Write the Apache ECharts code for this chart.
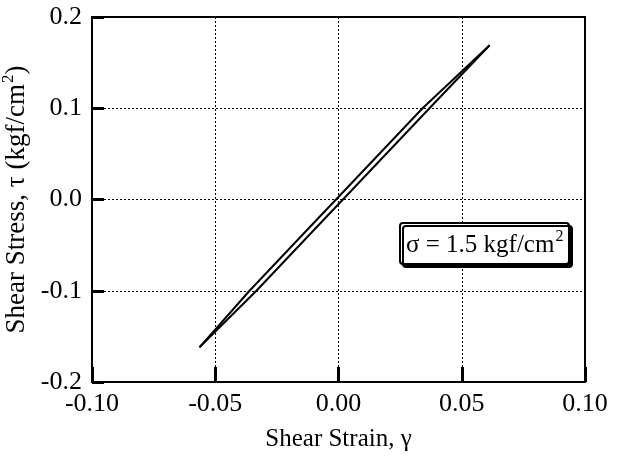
<!DOCTYPE html>
<html>
<head>
<meta charset="utf-8">
<script src="https://cdn.jsdelivr.net/npm/echarts@6/dist/echarts.min.js"></script>
<style>
    html, body { margin: 0; padding: 0; background: #fff; }
    #main { width: 626px; height: 461px; }
</style>
</head>
<body>
<div id="main"></div>
<script>
// ticks
var xTicks = [-0.10, -0.05, 0.00, 0.05, 0.10];
var yTicks = [-0.2, -0.1, 0.0, 0.1, 0.2];

// hysteresis loop
// upper / left branch (unloading)
var upperX = [0.0613, 0.0341, 0.0090, -0.0010, -0.0119, -0.0361, -0.0564];
var upperY = [0.169, 0.100, 0.0285, 0.000, -0.031, -0.100, -0.162];
// lower / right branch (loading)
var lowerX = [-0.0564, -0.0333, -0.0091, 0.0018, 0.0118, 0.0369, 0.0613];
var lowerY = [-0.162, -0.100, -0.031, 0.000, 0.0285, 0.100, 0.169];

function pairs(xs, ys) {
    var out = [];
    for (var i = 0; i < xs.length; i++) out.push([xs[i], ys[i]]);
    return out;
}

var font = 'Liberation Serif';
var dom = document.getElementById('main');
var myChart = echarts.init(dom, null, {renderer: 'canvas'});

var option = {
    animation: false,
    backgroundColor: '#fff',
    textStyle: {fontFamily: font, color: '#000'},
    title: {
        text: '{n|σ = 1.5 kgf/cm}{sup|2}',
        left: 400,
        top: 223,
        padding: [6, 6, 6, 6],
        borderColor: '#000',
        borderWidth: 2,
        borderRadius: 3,
        backgroundColor: '#fff',
        shadowColor: '#000',
        shadowOffsetX: 3,
        shadowOffsetY: 3,
        shadowBlur: 0,
        textStyle: {
            fontWeight: 'normal',
            rich: {
                n: {fontFamily: font, fontSize: 25, fontWeight: 'normal', color: '#000', lineHeight: 29, verticalAlign: 'bottom'},
                sup: {fontFamily: font, fontSize: 16, fontWeight: 'normal', color: '#000', lineHeight: 29, verticalAlign: 'top', padding: [0, 0, 12, 1]}
            }
        }
    },
    grid: {
        left: 92,
        right: 41,
        top: 17,
        bottom: 79,
        containLabel: false,
        outerBoundsMode: 'none',
        show: true,
        borderColor: '#000',
        borderWidth: 2,
        backgroundColor: 'transparent'
    },
    xAxis: {
        type: 'value',
        min: -0.10,
        max: 0.10,
        interval: 0.05,
        name: 'Shear Strain, γ',
        nameLocation: 'middle',
        nameGap: 45,
        nameTextStyle: {fontFamily: font, fontSize: 25, color: '#000'},
        axisLine: {show: true, onZero: false, lineStyle: {color: '#000', width: 2}},
        axisTick: {show: true, inside: true, length: 15, lineStyle: {color: '#000', width: 3}},
        axisLabel: {
            fontFamily: font, fontSize: 26, color: '#000', margin: 9,
            formatter: function (v) { return v.toFixed(2); }
        },
        splitLine: {show: true, lineStyle: {color: '#000', width: 1, type: [2, 2]}}
    },
    yAxis: {
        type: 'value',
        min: -0.2,
        max: 0.2,
        interval: 0.1,
        name: '{n|Shear Stress, τ (kgf/cm}{sup|2}{n|)}',
        nameLocation: 'middle',
        nameGap: 52,
        nameRotate: 90,
        nameTextStyle: {
            rich: {
                n: {fontFamily: font, fontSize: 27, color: '#000', lineHeight: 30, verticalAlign: 'bottom'},
                sup: {fontFamily: font, fontSize: 17, color: '#000', lineHeight: 30, verticalAlign: 'top', padding: [0, 0, 12, 1]}
            }
        },
        axisLine: {show: true, onZero: false, lineStyle: {color: '#000', width: 2}},
        axisTick: {show: true, inside: true, length: 12, lineStyle: {color: '#000', width: 3}},
        axisLabel: {
            fontFamily: font, fontSize: 26, color: '#000', margin: 10,
            formatter: function (v) { return v.toFixed(1); }
        },
        splitLine: {show: true, lineStyle: {color: '#000', width: 1, type: [2, 2]}}
    },
    series: [
        {
            name: 'upper',
            type: 'line',
            data: pairs(upperX, upperY),
            showSymbol: false,
            lineStyle: {color: '#000', width: 2},
            z: 5
        },
        {
            name: 'lower',
            type: 'line',
            data: pairs(lowerX, lowerY),
            showSymbol: false,
            lineStyle: {color: '#000', width: 2},
            z: 5
        }
    ]
};

myChart.setOption(option, true);
</script>
</body>
</html>
